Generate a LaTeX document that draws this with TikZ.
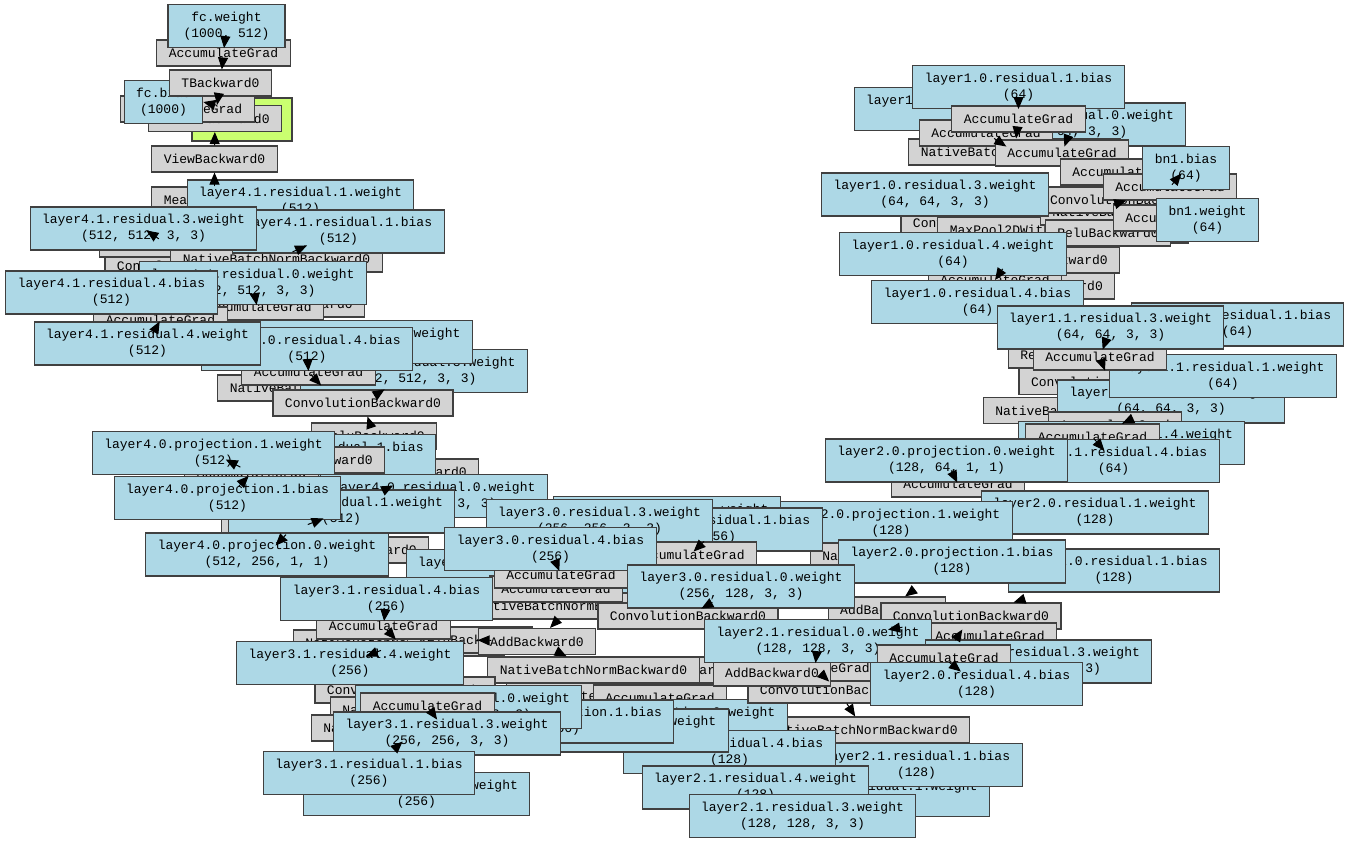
\documentclass[tikz,border=0pt]{standalone}
\usepackage{fontspec}
\setmonofont{Liberation Mono}
\usetikzlibrary{arrows.meta}
\definecolor{gradgray}{HTML}{D3D3D3}
\definecolor{parblue}{HTML}{ADD8E6}
\definecolor{outgreen}{HTML}{CAFF70}
\begin{document}
\begin{tikzpicture}[
    x=1pt, y=-1pt,
    font=\ttfamily\fontsize{13}{16}\selectfont,
    box/.style={rectangle, draw=black!75, line width=1.1pt, inner xsep=12pt, inner ysep=0pt, align=center},
    grad/.style={box, fill=gradgray, minimum height=26pt},
    param/.style={box, fill=parblue, minimum height=43pt},
    result/.style={box, fill=outgreen, minimum width=100pt, minimum height=43pt},
    arrow/.style={-{Triangle[length=12pt,width=10pt]}, line width=1pt, black},
    stub/.style={shorten <=#1}
]
    \fill[white] (0,0) rectangle (1360,843);
    \useasboundingbox (0,0) rectangle (1360,843);

    \node[result] (out) at (242,119.5) {};
    \node[grad] (addmm) at (215,118.5) {AddmmBackward0};
    \node[grad] (accfcb) at (187.5,109) {AccumulateGrad};
    \node[param] (fcb) at (163.5,102) {fc.bias\\(1000)};
    \node[grad] (tback) at (220.5,83) {TBackward0};
    \node[grad] (accfcw) at (223.5,53) {AccumulateGrad};
    \node[param, minimum width=117pt] (fcw) at (226.5,26) {fc.weight\\(1000, 512)};
    \node[grad] (view) at (214.5,159) {ViewBackward0};

    \node[param] (l10r1w) at (967.5,109) {layer1.0.residual.1.weight\\(64)};
    \node[param] (l10r0w) at (1072.5,124.5) {layer1.0.residual.0.weight\\(64, 64, 3, 3)};
    \node[grad] (bn1a) at (1014.5,152) {NativeBatchNormBackward0};
    \node[grad] (acc1a) at (986,133) {AccumulateGrad};
    \node[grad] (acc1b) at (1062,153) {AccumulateGrad};
    \node[param] (l10r1b) at (1018.5,87) {layer1.0.residual.1.bias\\(64)};
    \node[grad] (acc1c) at (1018.5,119) {AccumulateGrad};
    \node[grad] (conv1b) at (991,223) {ConvolutionBackward0};
    \node[grad] (maxp) at (1063,230) {MaxPool2DWithIndicesBackward0};
    \node[grad] (bn1c) at (1146,212) {NativeBatchNormBackward0};
    \node[grad] (relu1) at (1108,233) {ReluBackward0};
    \node[grad] (conv1a) at (1128,200) {ConvolutionBackward0};
    \node[grad] (acc1d) at (1127,172) {AccumulateGrad};
    \node[grad] (acc1e) at (1170,187) {AccumulateGrad};
    \node[grad] (acc1f) at (1180,218) {AccumulateGrad};
    \node[param] (bn1b) at (1186,168) {bn1.bias\\(64)};
    \node[param] (bn1w) at (1207.5,220) {bn1.weight\\(64)};
    \node[param] (l10r3w) at (935,194.5) {layer1.0.residual.3.weight\\(64, 64, 3, 3)};
    \node[grad] (relu1b) at (1057,260) {ReluBackward0};
    \node[grad] (add1) at (1056,286) {AddBackward0};
    \node[grad] (acc1g) at (995,280) {AccumulateGrad};
    \node[param] (l10r4w) at (953,254) {layer1.0.residual.4.weight\\(64)};
    \node[param] (l10r4b) at (977.5,302) {layer1.0.residual.4.bias\\(64)};
    \node[param] (l11r1b) at (1237.5,324.5) {layer1.1.residual.1.bias\\(64)};
    \node[grad] (relu1c) at (1071,355) {ReluBackward0};
    \node[grad] (conv1c) at (1109,381.5) {ConvolutionBackward0};
    \node[grad] (bn1d) at (1089,410.5) {NativeBatchNormBackward0};
    \node[param] (l11r0w) at (1171,401.5) {layer1.1.residual.0.weight\\(64, 64, 3, 3)};
    \node[param] (l11r1w) at (1223,376) {layer1.1.residual.1.weight\\(64)};
    \node[grad] (acc1h) at (1100,357) {AccumulateGrad};
    \node[param] (l11r3w) at (1110.5,327.5) {layer1.1.residual.3.weight\\(64, 64, 3, 3)};
    \node[grad] (acc1i) at (1115,425) {AccumulateGrad};
    \node[param] (l11r4w) at (1131.5,443) {layer1.1.residual.4.weight\\(64)};
    \node[grad] (acc1j) at (1092.5,437) {AccumulateGrad};
    \node[param] (l11r4b) at (1113.5,461) {layer1.1.residual.4.bias\\(64)};

    \node[grad] (acc2a) at (958,484) {AccumulateGrad};
    \node[param] (l20p0w) at (946.5,460.5) {layer2.0.projection.0.weight\\(128, 64, 1, 1)};
    \node[param] (l20r1w) at (1095,512.5) {layer2.0.residual.1.weight\\(128)};
    \node[param] (l20p1w) at (891,523) {layer2.0.projection.1.weight\\(128)};
    \node[grad] (bn2a) at (916,556) {NativeBatchNormBackward0};
    \node[param] (l20r1b) at (1114,570.5) {layer2.0.residual.1.bias\\(128)};
    \node[param] (l20p1b) at (952,561.5) {layer2.0.projection.1.bias\\(128)};
    \node[grad] (add2) at (887,610) {AddBackward0};
    \node[grad] (conv2a) at (971,616) {ConvolutionBackward0};
    \node[grad] (acc2e) at (990,636) {AccumulateGrad};

    \node[grad] (mean) at (214.5,200) {MeanBackward0};
    \node[param] (l41r1w) at (300.5,201.5) {layer4.1.residual.1.weight\\(512)};
    \node[grad] (conv4a) at (195,266) {ConvolutionBackward0};
    \node[grad] (acc4a) at (166.5,244) {AccumulateGrad};
    \node[grad] (bn4a) at (276.5,259) {NativeBatchNormBackward0};
    \node[param] (l41r1b) at (338.5,231.5) {layer4.1.residual.1.bias\\(512)};
    \node[param] (l41r3w) at (143.5,228.5) {layer4.1.residual.3.weight\\(512, 512, 3, 3)};
    \node[grad] (relu4a) at (302,304) {ReluBackward0};
    \node[grad] (acc4b) at (257,307) {AccumulateGrad};
    \node[param] (l41r0w) at (253,283) {layer4.1.residual.0.weight\\(512, 512, 3, 3)};
    \node[grad] (acc4c) at (160.5,320) {AccumulateGrad};
    \node[grad] (bn4b) at (323.5,388) {NativeBatchNormBackward0};
    \node[param] (l40r3w) at (414,371) {layer4.0.residual.3.weight\\(512, 512, 3, 3)};
    \node[grad] (acc4d) at (308.5,372) {AccumulateGrad};
    \node[param] (l40r4w) at (359,342) {layer4.0.residual.4.weight\\(512)};
    \node[param] (l40r4b) at (307,349) {layer4.0.residual.4.bias\\(512)};
    \node[grad] (conv4b) at (363,403) {ConvolutionBackward0};
    \node[param] (l41r4b) at (111.5,292.5) {layer4.1.residual.4.bias\\(512)};
    \node[param] (l41r4w) at (147.5,343.5) {layer4.1.residual.4.weight\\(512)};
    \node[grad] (add4) at (420,472) {AddBackward0};
    \node[grad] (relu4b) at (374,436) {ReluBackward0};
    \node[param] (l40r1b) at (330,456) {layer4.0.residual.1.bias\\(512)};
    \node[grad] (relu4c) at (322,460) {ReluBackward0};
    \node[grad] (acc4e) at (251.5,473) {AccumulateGrad};
    \node[param] (l40p1w) at (213.5,453) {layer4.0.projection.1.weight\\(512)};
    \node[grad] (acc4f) at (288.5,532) {AccumulateGrad};
    \node[param] (l40r0w) at (434,496) {layer4.0.residual.0.weight\\(512, 256, 3, 3)};
    \node[param] (l40r1w) at (341.5,511.5) {layer4.0.residual.1.weight\\(512)};
    \node[param] (l40p1b) at (227.5,498) {layer4.0.projection.1.bias\\(512)};
    \node[grad] (relu4d) at (366,550) {ReluBackward0};
    \node[param] (l40p0w) at (267,554.5) {layer4.0.projection.0.weight\\(512, 256, 1, 1)};

    \node[param] (l30r1w) at (667,518) {layer3.0.residual.1.weight\\(256)};
    \node[param] (l30r1b) at (716.5,529.5) {layer3.0.residual.1.bias\\(256)};
    \node[param] (l30r3w) at (599.5,521) {layer3.0.residual.3.weight\\(256, 256, 3, 3)};
    \node[grad] (acc3c) at (690,555) {AccumulateGrad};
    \node[param] (l30r4w) at (519.5,571) {layer3.0.residual.4.weight\\(256)};
    \node[grad] (bn3c) at (571,606) {NativeBatchNormBackward0};
    \node[grad] (acc3b) at (556,589) {AccumulateGrad};
    \node[grad] (acc3a) at (561,575) {AccumulateGrad};
    \node[param] (l30r4b) at (550.5,549) {layer3.0.residual.4.bias\\(256)};
    \node[grad] (conv3) at (688,616) {ConvolutionBackward0};
    \node[param] (l30r0w) at (741,586.5) {layer3.0.residual.0.weight\\(256, 128, 3, 3)};
    \node[grad] (bn3a) at (399,643) {NativeBatchNormBackward0};
    \node[grad] (relu3) at (470,640) {ReluBackward0};
    \node[grad] (acc3d) at (383.5,626) {AccumulateGrad};
    \node[param] (l31r4b) at (386.5,599) {layer3.1.residual.4.bias\\(256)};
    \node[grad] (add3) at (537,641.5) {AddBackward0};
    \node[grad] (relu2) at (680,670) {ReluBackward0};
    \node[grad] (bn3b) at (593.5,670) {NativeBatchNormBackward0};
    \node[grad] (conv3b) at (405,690) {ConvolutionBackward0};
    \node[param] (l31r4w) at (350,663) {layer3.1.residual.4.weight\\(256)};
    \node[grad] (acc3e) at (573,696) {AccumulateGrad};
    \node[grad] (acc3h) at (660,698) {AccumulateGrad};
    \node[grad] (bn2b) at (864,730) {NativeBatchNormBackward0};
    \node[param] (l30p0w) at (666,721) {layer3.0.projection.0.weight\\(256, 128, 1, 1)};
    \node[param] (l21r1w) at (876,795) {layer2.1.residual.1.weight\\(128)};
    \node[param] (l21r1b) at (916.5,765) {layer2.1.residual.1.bias\\(128)};
    \node[param] (l21r4b) at (729.5,752) {layer2.1.residual.4.bias\\(128)};
    \node[param] (l30p1w) at (607,730.5) {layer3.0.projection.1.weight\\(256)};
    \node[param] (l30p1b) at (560.5,721.5) {layer3.0.projection.1.bias\\(256)};
    \node[grad] (bn3d) at (436,710) {NativeBatchNormBackward0};
    \node[grad] (bn3e) at (417,728) {NativeBatchNormBackward0};
    \node[param] (l31r0w) at (468.5,707) {layer3.1.residual.0.weight\\(256, 256, 3, 3)};
    \node[grad] (acc3f) at (427.5,706) {AccumulateGrad};
    \node[param] (l31r3w) at (447,733.5) {layer3.1.residual.3.weight\\(256, 256, 3, 3)};
    \node[param] (l31r1w) at (416.5,794) {layer3.1.residual.1.weight\\(256)};
    \node[param] (l31r1b) at (369,773) {layer3.1.residual.1.bias\\(256)};

    \node[grad] (conv2b) at (838,690) {ConvolutionBackward0};
    \node[grad] (acc2d) at (815,668) {AccumulateGrad};
    \node[grad] (add2b) at (772,673) {AddBackward0};
    \node[param] (l21r0w) at (818,641) {layer2.1.residual.0.weight\\(128, 128, 3, 3)};
    \node[param] (l20r3w) at (1038.5,661.5) {layer2.0.residual.3.weight\\(128, 128, 3, 3)};
    \node[grad] (acc2c) at (944,658) {AccumulateGrad};
    \node[param] (l20r4b) at (976.5,684) {layer2.0.residual.4.bias\\(128)};
    \node[param] (l21r4w) at (755.5,787.5) {layer2.1.residual.4.weight\\(128)};
    \node[param] (l21r3w) at (802.5,816) {layer2.1.residual.3.weight\\(128, 128, 3, 3)};

    \draw[arrow] (accfcw) -- (fcw);
    \draw[arrow] (accfcw) -- (tback);
    \draw[arrow] (tback) -- (addmm);
    \draw[arrow] (addmm.north) -- (fcb.east);
    \draw[arrow] (view) -- (addmm);
    \draw[arrow] (mean) -- (view);

    \draw[arrow, stub=21pt] (l41r3w) -- (acc4a);
    \draw[arrow, stub=4pt] (l41r1b) -- (bn4a);
    \draw[arrow] (acc4b) -- (l41r0w);
    \draw[arrow] (acc4c) -- (l41r4w);
    \draw[arrow] (acc4d) -- (l40r4b);
    \draw[arrow] (bn4b) -- (acc4d);
    \draw[arrow] (l40r3w) -- (conv4b);
    \draw[arrow] (relu4b) -- (conv4b);
    \draw[arrow] (acc4e) -- (l40p1b);
    \draw[arrow, stub=17pt] (l40p1w) -- (acc4e);
    \draw[arrow] (l40r1w) -- (add4);
    \draw[arrow, stub=25pt] (l40r1w) -- (acc4f);
    \draw[arrow, stub=3pt] (l40p0w) -- (acc4f);

    \draw[arrow] (acc3a) -- (l30r4b);
    \draw[arrow] (bn3c) -- (add3);
    \draw[arrow, stub=42pt] (relu3) -- (add3);
    \draw[arrow] (add3) -- (bn3b);
    \draw[arrow, stub=25pt] (l31r4w) -- (bn3a);
    \draw[arrow] (acc3d) -- (l31r4b);
    \draw[arrow] (bn3a) -- (acc3d);
    \draw[arrow] (l31r3w) -- (acc3f);
    \draw[arrow, stub=3pt] (l31r1b) -- (bn3e);
    \draw[arrow] (conv3) -- (l30r0w);
    \draw[arrow] (acc3c) -- (l30r1b);

    \draw[arrow] (acc2a) -- (l20p0w);
    \draw[arrow, stub=11pt] (l20p1b) -- (add2);
    \draw[arrow, stub=23pt] (l20r1b) -- (conv2a);
    \draw[arrow, stub=30pt] (l21r0w) -- (conv2a);
    \draw[arrow, stub=5pt] (acc2c) -- (conv2a);
    \draw[arrow] (l20r4b) -- (acc2c);
    \draw[arrow] (acc2d) -- (l21r0w);
    \draw[arrow] (conv2b) -- (acc2d);
    \draw[arrow] (conv2b) -- (bn2b);

    \draw[arrow] (acc1c) -- (l10r1b);
    \draw[arrow] (bn1a) -- (acc1a);
    \draw[arrow] (acc1b) -- (l10r0w);
    \draw[arrow] (acc1c) -- (bn1a);
    \draw[arrow, stub=7pt] (bn1b) -- (acc1e);
    \draw[arrow, stub=31pt] (conv1a) -- (acc1e);
    \draw[arrow, stub=3pt] (acc1g) -- (l10r4b);
    \draw[arrow] (acc1h) -- (l11r3w);
    \draw[arrow] (conv1c) -- (acc1h);
    \draw[arrow] (l11r4b) -- (acc1j);
    \draw[arrow] (acc1j) -- (l11r0w);
\end{tikzpicture}
\end{document}
